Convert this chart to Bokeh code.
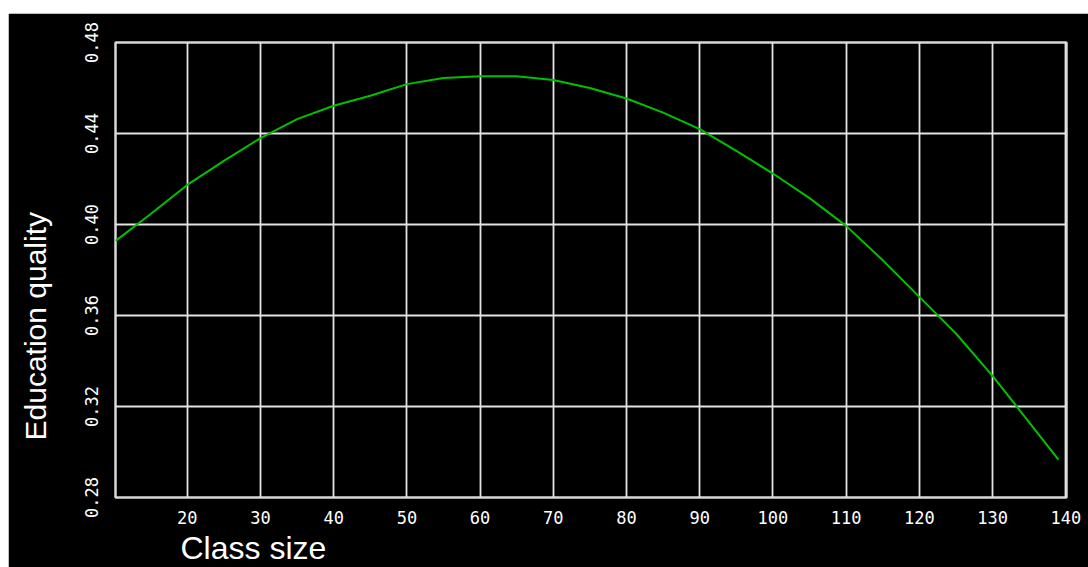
from bokeh.plotting import figure
from bokeh.models import Range1d, FixedTicker, PrintfTickFormatter, Title, Spacer
from bokeh.layouts import column, row
from bokeh.embed import file_html
from bokeh.resources import INLINE

# Data
class_size = [10.2, 15, 20, 25, 30, 35, 40, 45, 50, 55, 60, 65, 70, 75, 80,
              85, 90, 95, 100, 105, 110, 115, 120, 125, 130, 135, 139]
quality = [0.3928, 0.4046, 0.4174, 0.4280, 0.4380, 0.4463, 0.4522, 0.4566,
           0.4617, 0.4644, 0.4652, 0.4652, 0.4635, 0.4600, 0.4554, 0.4492,
           0.4419, 0.4324, 0.4224, 0.4116, 0.3994, 0.3843, 0.3682, 0.3521,
           0.3335, 0.3130, 0.2966]
x_ticks = [20, 30, 40, 50, 60, 70, 80, 90, 100, 110, 120, 130, 140]
y_ticks = [0.28, 0.32, 0.36, 0.40, 0.44, 0.48]

p = figure(width=1080, height=554, output_backend="svg", toolbar_location=None,
           x_range=Range1d(10.2, 140.1), y_range=Range1d(0.28, 0.48),
           min_border_left=107, min_border_right=22, min_border_top=29,
           min_border_bottom=70)
p.background_fill_color = "black"
p.border_fill_color = "black"
p.outline_line_color = "#d8d8d8"
p.outline_line_width = 2.5

p.line(class_size, quality, line_color="#00c000", line_width=2)

for ax in (p.xaxis[0], p.yaxis[0]):
    ax.axis_line_color = None
    ax.major_tick_line_color = None
    ax.minor_tick_line_color = None
    ax.major_tick_out = 0
    ax.major_tick_in = 0
    ax.major_label_text_color = "white"
    ax.major_label_text_font = "DejaVu Sans Mono"
    ax.major_label_text_font_size = "17px"

p.xaxis[0].ticker = FixedTicker(ticks=x_ticks)
p.yaxis[0].ticker = FixedTicker(ticks=y_ticks)
p.yaxis[0].formatter = PrintfTickFormatter(format="%.2f")
p.yaxis[0].major_label_orientation = "vertical"
p.xaxis[0].major_label_standoff = 13
p.yaxis[0].major_label_standoff = 18
# blank axis label used only as spacing between tick labels and the title
p.yaxis[0].axis_label = " "
p.yaxis[0].axis_label_text_font_size = "12px"
p.yaxis[0].axis_label_standoff = 13

p.xgrid[0].ticker = FixedTicker(ticks=x_ticks)
p.ygrid[0].ticker = FixedTicker(ticks=y_ticks)
for g in (p.xgrid[0], p.ygrid[0]):
    g.grid_line_color = "#e4e4e4"
    g.grid_line_width = 1.8

p.add_layout(Title(text="Class size", align="left", offset=65, standoff=2,
                   text_font="Liberation Sans", text_font_size="32px",
                   text_font_style="normal", text_color="white"), "below")
p.add_layout(Title(text="Education quality", align="left", offset=57, standoff=0,
                   text_font="Liberation Sans", text_font_size="30px",
                   text_font_style="normal", text_color="white"), "left")

layout = row(Spacer(width=8, height=567),
             column(Spacer(height=13, width=1080), p))
open("out.html", "w").write(file_html(layout, INLINE))
